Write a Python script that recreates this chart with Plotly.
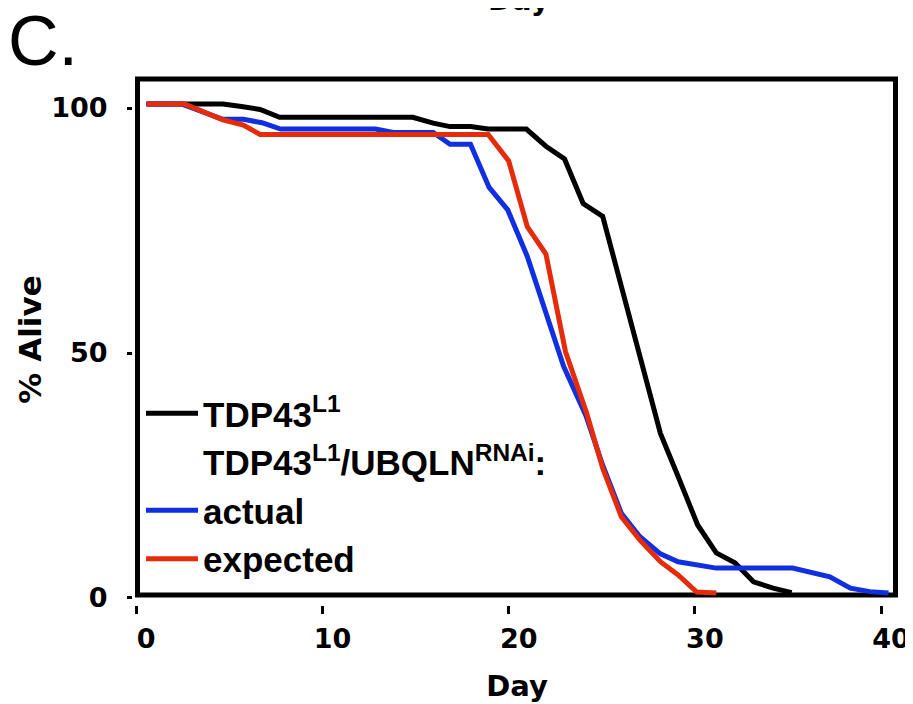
import plotly.graph_objects as go

# ---- data ----
days_tdp43 = [0.0, 4.1, 5.1, 6.1, 7.15, 14.3, 15.4, 16.3, 17.4, 18.35, 20.4, 21.45, 22.45,
              23.45, 24.5, 27.6, 28.55, 29.6, 30.6, 31.6, 32.6, 33.65, 34.65]
alive_tdp43 = [100.8, 100.8, 100.3, 99.7, 98.1, 98.1, 96.9, 96.2, 96.2, 95.7, 95.7, 92.2, 89.6,
               80.5, 77.9, 33.6, 24.8, 14.9, 9.2, 7.2, 3.3, 2.0, 1.1]

days_actual = [0.0, 1.9, 4.1, 5.2, 6.2, 7.2, 12.3, 13.25, 15.4, 16.3, 17.4, 18.4, 19.4, 20.45,
               22.4, 23.6, 24.5, 25.5, 26.5, 27.6, 28.55, 29.55, 30.6, 34.7, 35.7, 36.7, 37.8,
               38.85, 39.85]
alive_actual = [100.8, 100.8, 97.7, 97.7, 97.0, 95.7, 95.7, 95.0, 95.0, 92.6, 92.6, 83.8, 79.2,
                69.7, 47.3, 37.2, 27.1, 17.3, 12.5, 9.0, 7.4, 6.7, 6.1, 6.1, 5.2, 4.3, 2.0,
                1.3, 1.0]

days_expected = [0.0, 2.05, 4.1, 5.2, 6.1, 18.35, 19.45, 20.45, 21.45, 22.5, 23.65, 24.5, 25.5,
                 26.5, 27.6, 28.55, 29.55, 30.6]
alive_expected = [100.8, 100.8, 97.6, 96.5, 94.6, 94.6, 89.2, 75.8, 70.2, 50.3, 37.6, 26.5, 16.6,
                  11.8, 7.4, 4.7, 1.2, 1.0]

x_tick_values = [0, 10, 20, 30, 40]
x_tick_labels = ["0", "10", "20", "30", "40"]
y_tick_values = [0, 50, 100]
y_tick_labels = ["0", "50", "100"]

name_tdp43 = "TDP43<sup>L1</sup>"
name_header = "TDP43<sup>L1</sup>/UBQLN<sup>RNAi</sup>:"
name_actual = "actual"
name_expected = "expected"

# ---- styling ----
BLACK = "#000000"
BLUE = "#0f2fe0"
RED = "#e42b0c"
LW = 5
TICK_FONT = dict(family="DejaVu Sans, Verdana, sans-serif", size=27, color="black", weight="bold")
XTITLE_FONT = dict(family="DejaVu Sans, Verdana, sans-serif", size=29, color="black", weight="bold")
YTITLE_FONT = dict(family="DejaVu Sans, Verdana, sans-serif", size=31, color="black", weight="bold")
LEG_FONT = dict(family="Liberation Sans, Arial, sans-serif", size=35, color="black", weight="bold")

fig = go.Figure()
fig.add_trace(go.Scatter(x=days_tdp43, y=alive_tdp43, mode="lines", name=name_tdp43,
                         line=dict(color=BLACK, width=LW), legendrank=1))
fig.add_trace(go.Scatter(x=[None], y=[None], mode="lines", name=name_header,
                         line=dict(color="rgba(0,0,0,0)", width=LW), legendrank=2))
fig.add_trace(go.Scatter(x=days_actual, y=alive_actual, mode="lines", name=name_actual,
                         line=dict(color=BLUE, width=LW), legendrank=3))
fig.add_trace(go.Scatter(x=days_expected, y=alive_expected, mode="lines", name=name_expected,
                         line=dict(color=RED, width=LW), legendrank=4))

# page has an 8px body margin: lay out in page pixels, then subtract it
OFF = 8
W, H = 913 - OFF, 704 - OFF
L, R, T, B = 133 - OFF, 901 - OFF, 74 - OFF, 605 - OFF


def px_x(page_x):
    return (page_x - OFF - L) / (R - L)


def px_y(page_y):
    return (B - (page_y - OFF)) / (B - T)


fig.update_layout(
    width=W, height=H,
    margin=dict(l=L, r=W - R, t=T, b=H - B, pad=0, autoexpand=False),
    plot_bgcolor="white", paper_bgcolor="white",
    showlegend=True,
    legend=dict(x=px_x(141), y=px_y(384), xanchor="left", yanchor="top", font=LEG_FONT,
                bgcolor="rgba(0,0,0,0)", itemwidth=52, traceorder="normal",
                tracegroupgap=0),
    xaxis=dict(range=[-0.725, 40.52], showgrid=False, zeroline=False, showline=False,
               ticks="outside", ticklen=8, tickwidth=2.5, tickcolor="black",
               tickvals=[v - 0.55 for v in x_tick_values], ticktext=x_tick_labels,
               ticklabelshift=10, ticklabelstandoff=2, tickfont=TICK_FONT,
               title=dict(text="Day", font=XTITLE_FONT, standoff=22)),
    yaxis=dict(range=[-1.43, 106.94], showgrid=False, zeroline=False, showline=False,
               ticks="outside", ticklen=5, tickwidth=2.5, tickcolor="black",
               tickvals=y_tick_values, ticktext=y_tick_labels,
               ticklabelstandoff=14, tickfont=TICK_FONT,
               title=dict(text="% Alive", font=YTITLE_FONT, standoff=0)),
    shapes=[dict(type="rect", xref="paper", yref="paper",
                 x0=px_x(137.5), x1=px_x(895.5), y0=px_y(595), y1=px_y(79),
                 line=dict(color="black", width=5), layer="below")],
    annotations=[
        dict(text="C.", xref="paper", yref="paper", x=px_x(6), y=px_y(0),
             xanchor="left", yanchor="top", showarrow=False,
             font=dict(family="Liberation Sans Narrow, Liberation Sans, Arial", size=70, color="black")),
        dict(text="Day", xref="paper", yref="paper", x=px_x(519), y=px_y(19),
             xanchor="center", yanchor="bottom", showarrow=False, font=XTITLE_FONT),
    ],
)

fig.write_html("out.html")
